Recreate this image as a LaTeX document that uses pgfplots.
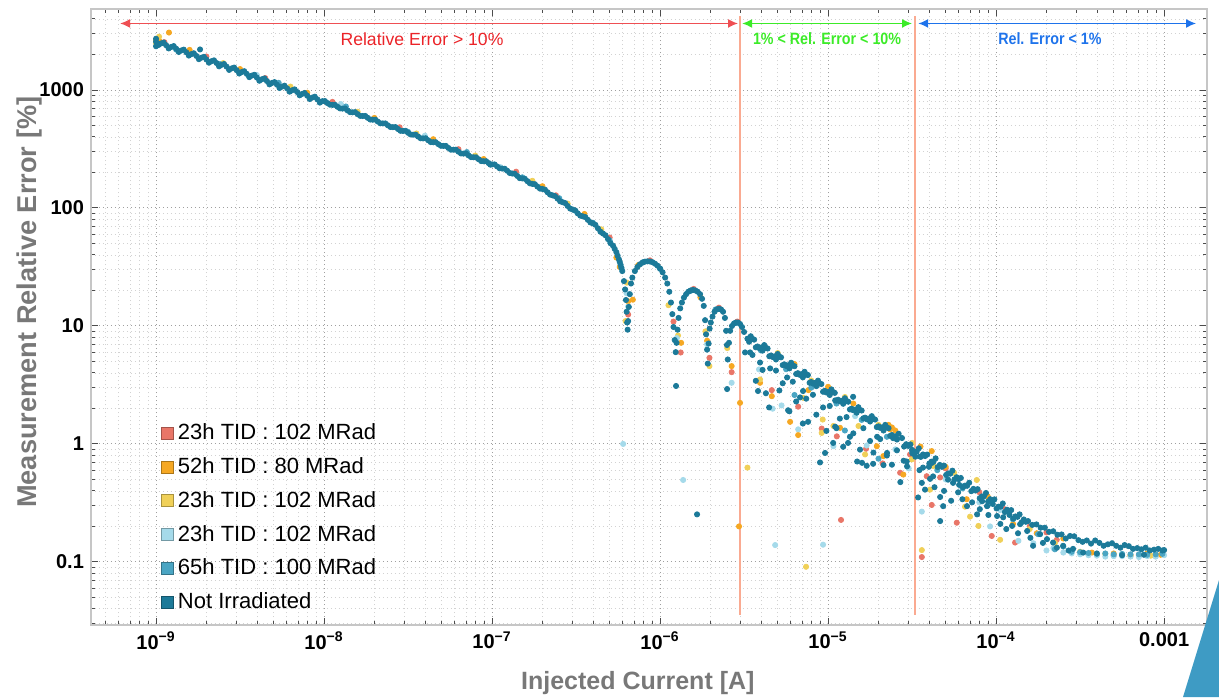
\documentclass[border=0pt]{standalone}
\usepackage{pgfplots}
\pgfplotsset{compat=1.18}
\usepackage{fontspec}
\setmainfont{Liberation Sans}
\newfontfamily\condfont[FakeStretch=0.87]{Liberation Sans}
\usetikzlibrary{arrows.meta}

\definecolor{cRed}{RGB}{233,118,104}
\definecolor{cOrange}{RGB}{246,168,35}
\definecolor{cYellow}{RGB}{240,208,88}
\definecolor{cLBlue}{RGB}{165,218,234}
\definecolor{cMBlue}{RGB}{74,165,195}
\definecolor{cDark}{RGB}{28,122,153}
\definecolor{cLine}{RGB}{250,170,145}
\definecolor{cRedT}{RGB}{235,35,40}
\definecolor{cGreenT}{RGB}{60,235,40}
\definecolor{cBlueT}{RGB}{30,115,235}
\definecolor{labelgray}{RGB}{120,120,120}
\definecolor{cTri}{RGB}{62,155,196}

\pgfplotsset{
  pts/.style={only marks, mark=*, mark size=1.3pt, color=#1,
    legend image code/.code={\draw[fill=#1, draw=#1!70!black, line width=0.5pt] (0pt,-3pt) rectangle (6pt,3pt);}},
}

\begin{document}
\begin{tikzpicture}
\begin{axis}[
  name=ax,
  scale only axis,
  width=558pt, height=308pt,
  xmode=log, ymode=log,
  xmin=4.10e-10, xmax=1.80e-3,
  ymin=0.0292, ymax=4860,
  xtick={1e-9,1e-8,1e-7,1e-6,1e-5,1e-4,1e-3},
  xticklabels={10\textsuperscript{−9},10\textsuperscript{−8},10\textsuperscript{−7},10\textsuperscript{−6},10\textsuperscript{−5},10\textsuperscript{−4},0.001},
  minor xtick={5e-10,6e-10,7e-10,8e-10,9e-10,
    2e-9,3e-9,4e-9,5e-9,6e-9,7e-9,8e-9,9e-9,
    2e-8,3e-8,4e-8,5e-8,6e-8,7e-8,8e-8,9e-8,
    2e-7,3e-7,4e-7,5e-7,6e-7,7e-7,8e-7,9e-7,
    2e-6,3e-6,4e-6,5e-6,6e-6,7e-6,8e-6,9e-6,
    2e-5,3e-5,4e-5,5e-5,6e-5,7e-5,8e-5,9e-5,
    2e-4,3e-4,4e-4,5e-4,6e-4,7e-4,8e-4,9e-4},
  ytick={0.1,1,10,100,1000},
  yticklabels={0.1,1,10,100,1000},
  minor ytick={0.03,0.04,0.05,0.06,0.07,0.08,0.09,
    0.2,0.3,0.4,0.5,0.6,0.7,0.8,0.9,
    2,3,4,5,6,7,8,9,20,30,40,50,60,70,80,90,
    200,300,400,500,600,700,800,900,2000,3000,4000},
  ticklabel style={font=\bfseries\fontsize{10}{12}\selectfont, text=black},
  grid=both,
  major grid style={gray!75, line width=0.5pt, dash pattern=on 0.7pt off 1.3pt},
  minor grid style={gray!35, line width=0.4pt, dash pattern=on 0.7pt off 1.3pt},
  tick align=inside,
  major tick length=3.5pt, minor tick length=2pt,
  tick style={gray!60!black, line width=0.5pt},
  axis line style={gray!45, line width=0.8pt},
  xlabel={Injected Current [A]},
  ylabel={Measurement Relative Error [\%]},
  xlabel style={at={(axis description cs:0.49,-0.094)}, anchor=center,
    font=\bfseries\fontsize{12.5}{14}\selectfont, text=labelgray},
  ylabel style={at={(axis description cs:-0.0547,0.524)}, anchor=center,
    font=\bfseries\fontsize{13.6}{15}\selectfont, text=labelgray},
  legend style={at={(axis description cs:0.057,0.34)}, anchor=north west,
    draw=none, fill=none, font=\fontsize{11}{13}\selectfont, row sep=3.4pt},
  legend cell align=left,
]

% region limits
\draw[cLine, line width=0.75pt] (axis cs:3.0e-6,0.0356) -- (axis cs:3.0e-6,4200);
\draw[cLine, line width=0.75pt] (axis cs:3.3e-5,0.0356) -- (axis cs:3.3e-5,4200);
\draw[cRedT!80, line width=0.75pt, {Latex[length=5pt,width=4.5pt]}-{Latex[length=5pt,width=4.5pt]}]
  (axis cs:6.11e-10,3665) -- (axis cs:2.91e-6,3665);
\draw[cGreenT, line width=0.75pt, {Latex[length=5pt,width=4.5pt]}-{Latex[length=5pt,width=4.5pt]}]
  (axis cs:3.08e-6,3665) -- (axis cs:3.16e-5,3665);
\draw[cBlueT, line width=0.75pt, {Latex[length=5pt,width=4.5pt]}-{Latex[length=5pt,width=4.5pt]}]
  (axis cs:3.44e-5,3665) -- (axis cs:1.55e-3,3665);
\node[text=cRedT, font=\fontsize{8.8}{10}\selectfont] at (axis cs:3.83e-8,2700) {Relative Error > 10\%};
\node[text=cGreenT, font=\condfont\bfseries\fontsize{8.2}{10}\selectfont] at (axis cs:9.86e-6,2730) {1\% < Rel. Error < 10\%};
\node[text=cBlueT, font=\condfont\bfseries\fontsize{8.2}{10}\selectfont] at (axis cs:2.09e-4,2730) {Rel. Error < 1\%};

% 23h TID : 102 MRad (red)
\addplot[pts=cRed] coordinates {
(1.122e-9,2541) (1.995e-9,1923) (4.467e-9,1262) (1.122e-8,793) (2.818e-8,483) (6.310e-8,315) (1.390e-7,203) (2.399e-7,128) (5.012e-7,56.2)
(6.457e-7,12.5) (8.710e-7,36.0) (1.202e-6,10.9) (1.327e-6,5.96) (1.585e-6,20.6) (1.968e-6,5.37) (2.239e-6,14.3) (2.667e-6,4.06) (2.884e-6,10.9)
(4.624e-6,2.86) (6.637e-6,2.07) (9.162e-6,1.35) (1.127e-5,1.16) (1.683e-5,0.91) (2.113e-5,0.684) (2.685e-5,0.57) (3.076e-5,0.815) (3.864e-5,0.533) (1.194e-5,0.227)
(3.614e-5,0.11) (4.140e-5,0.304) (4.645e-5,0.52) (5.834e-5,0.215) (9.419e-5,0.166) (1.297e-4,0.146) (2.296e-4,0.154) (2.818e-4,0.125) (3.548e-4,0.117) (5.012e-4,0.113) (7.079e-4,0.114) (8.913e-4,0.112)
(5.012e-5,0.62) (7.943e-5,0.39) (1.122e-4,0.28) (1.585e-4,0.2) (1.995e-4,0.178)
};
\addlegendentry{23h TID : 102 MRad}

% 52h TID : 80 MRad (orange)
\addplot[pts=cOrange] coordinates {
(1.194e-9,3070) (1.0e-9,2650) (1.047e-9,2600) (1.585e-9,2188) (3.162e-9,1505) (7.943e-9,948) (1.995e-8,580) (4.467e-8,383) (8.913e-8,260) (1.995e-7,153) (3.548e-7,89) (5.495e-7,38) (5.754e-7,31.6)
(6.457e-7,16.2) (6.887e-7,16.7) (7.413e-7,32.8) (1.334e-6,7.2) (1.738e-6,17.5) (1.905e-6,7.5) (2.667e-6,4.57) (2.992e-6,2.23) (2.951e-6,0.2)
(3.936e-6,3.3) (4.624e-6,2.54) (5.943e-6,1.54) (6.637e-6,1.19) (7.638e-6,2.86) (1.178e-5,1.37) (1.950e-5,0.957) (2.133e-5,0.789) (2.339e-5,1.33) (2.805e-5,0.55) (4.140e-5,0.87)
(6.310e-6,4.75) (1.0e-5,3.05) (1.413e-5,2.2) (2.291e-5,1.45) (2.399e-5,1.38) (2.512e-5,1.30)
(6.683e-5,0.34) (1.262e-4,0.21) (1.746e-4,0.175) (3.715e-4,0.12) (3.548e-5,0.95) (5.012e-5,0.64) (8.913e-5,0.36) (2.512e-4,0.158) (5.012e-4,0.118) (6.310e-4,0.114) (7.943e-4,0.118) (9.550e-4,0.115)
};
\addlegendentry{52h TID : 80 MRad}

% 23h TID : 102 MRad (yellow)
\addplot[pts=cYellow] coordinates {
(1.042e-9,2830) (1.0e-9,2500) (2.512e-9,1690) (6.310e-9,1069) (1.585e-8,654) (3.548e-8,428) (7.943e-8,278) (1.738e-7,170) (2.818e-7,109) (4.467e-7,66)
(6.339e-7,23.3) (6.237e-7,11) (1.279e-6,8.3) (1.122e-6,15) (1.968e-6,4.57) (1.862e-6,9.0) (2.512e-6,6.5) (3.311e-6,0.63)
(3.936e-6,3.52) (7.129e-6,2.46) (9.290e-6,1.61) (9.162e-6,1.24) (1.076e-5,1.42) (1.517e-5,1.42) (1.660e-5,0.815) (3.148e-5,0.74) (4.236e-5,0.65)
(5.012e-6,5.9) (7.943e-6,3.45) (1.259e-5,2.5) (1.995e-5,1.45) (7.396e-6,0.091)
(3.614e-5,0.126) (4.046e-5,0.41) (6.531e-5,0.294) (6.998e-5,0.242) (7.674e-5,0.495) (7.852e-5,0.202) (1.057e-4,0.154) (1.585e-4,0.19) (2.239e-4,0.145) (3.162e-4,0.122) (4.467e-4,0.117) (6.310e-4,0.112) (8.318e-4,0.113) (3.162e-5,1.02) (5.623e-5,0.57)
};
\addlegendentry{23h TID : 102 MRad}

% 23h TID : 102 MRad (light blue)
\addplot[pts=cLBlue] coordinates {
(1.259e-9,2330) (3.981e-9,1340) (1.259e-8,760) (3.981e-8,410) (1.122e-7,222) (3.162e-7,93) (6.026e-7,1.0)
(6.457e-7,14.6) (6.310e-7,19) (1.259e-6,7.9) (1.372e-6,0.495) (2.667e-6,3.3) (1.905e-6,7.0)
(3.882e-6,4.28) (4.677e-6,1.99) (5.284e-6,2.12) (6.637e-6,1.33) (1.076e-5,0.957) (1.449e-5,1.72) (1.698e-5,0.97) (2.512e-5,0.9) (3.020e-5,0.62)
(4.842e-6,0.139) (9.333e-6,0.14)
(3.614e-5,0.267) (9.204e-5,0.2) (1.057e-4,0.275) (1.358e-4,0.151) (1.667e-4,0.144) (2.193e-4,0.131) (2.818e-4,0.118) (3.548e-4,0.114) (4.467e-4,0.111) (5.623e-4,0.112) (7.079e-4,0.11) (8.913e-4,0.111) (1.0e-3,0.114) (5.012e-5,0.5) (6.310e-5,0.44) (7.943e-5,0.32)
(1.995e-4,0.125) (2.512e-4,0.12) (3.162e-4,0.116) (3.981e-4,0.113) (5.012e-4,0.112) (6.310e-4,0.111) (7.943e-4,0.112)
};
\addlegendentry{23h TID : 102 MRad}

% 65h TID : 100 MRad (mid blue)
\addplot[pts=cMBlue] coordinates {
(1.035e-9,2420) (1.318e-9,2200) (2.399e-9,1660) (5.370e-9,1150) (1.349e-8,725) (3.162e-8,442) (7.079e-8,298) (1.514e-7,182) (2.512e-7,121) (3.981e-7,75) (5.012e-7,53) (5.888e-7,31)
(7.943e-7,34.8) (1.0e-6,30.5) (1.514e-6,19.8) (2.138e-6,13.8) (2.818e-6,10.6)
(3.981e-6,6.2) (5.623e-6,4.3) (7.943e-6,3.0) (1.122e-5,2.2) (1.585e-5,1.6) (2.239e-5,1.15) (6.310e-6,2.6) (1.259e-5,1.3) (1.995e-5,0.75)
(3.162e-5,0.85) (4.467e-5,0.6) (6.310e-5,0.42) (8.913e-5,0.3) (1.259e-4,0.23) (1.778e-4,0.172) (2.512e-4,0.135) (3.162e-4,0.121) (3.981e-4,0.117) (5.012e-4,0.116) (6.310e-4,0.116) (7.943e-4,0.115) (9.772e-4,0.117)
(2.239e-4,0.128) (2.818e-4,0.122) (3.548e-4,0.119) (4.467e-4,0.118) (5.623e-4,0.117) (7.079e-4,0.116) (8.913e-4,0.116)
};
\addlegendentry{65h TID : 100 MRad}

% Not Irradiated (dark teal)
\addplot[pts=cDark] coordinates {
(1.000e-9,2570) (1.0e-9,2350) (1.0e-9,2720) (1.02e-9,2450) (1.828e-9,2207)
(1.072e-9,2483) (1.148e-9,2399) (1.230e-9,2317) (1.318e-9,2238) (1.413e-9,2162) (1.514e-9,2089) (1.622e-9,2014) (1.738e-9,1945) (1.862e-9,1879)
(1.995e-9,1815) (2.138e-9,1754) (2.291e-9,1694) (2.455e-9,1633) (2.630e-9,1578) (2.818e-9,1524) (3.020e-9,1472) (3.236e-9,1419) (3.467e-9,1371)
(3.715e-9,1324) (3.981e-9,1276) (4.266e-9,1233) (4.571e-9,1191) (4.898e-9,1148) (5.248e-9,1109) (5.623e-9,1069) (6.026e-9,1033) (6.457e-9,995)
(6.918e-9,962) (7.413e-9,927) (7.943e-9,895) (8.511e-9,863) (9.120e-9,834) (9.772e-9,804) (1.047e-8,776) (1.122e-8,748) (1.202e-8,721)
(1.288e-8,696) (1.380e-8,671) (1.479e-8,647) (1.585e-8,625) (1.698e-8,602) (1.820e-8,581) (1.950e-8,560) (2.089e-8,540) (2.239e-8,521)
(2.399e-8,502) (2.570e-8,484) (2.754e-8,467) (2.951e-8,450) (3.162e-8,434) (3.388e-8,418) (3.631e-8,403) (3.890e-8,389) (4.169e-8,375)
(4.467e-8,361) (4.786e-8,348) (5.129e-8,336) (5.495e-8,323) (5.888e-8,312) (6.310e-8,300) (6.761e-8,289) (7.244e-8,279) (7.762e-8,269)
(8.318e-8,259) (8.913e-8,249) (9.550e-8,240) (1.000e-7,234)
(1.035e-9,2412) (1.109e-9,2526) (1.189e-9,2252) (1.274e-9,2357) (1.365e-9,2101) (1.462e-9,2199) (1.567e-9,1959) (1.679e-9,2048) (1.799e-9,1826)
(1.928e-9,1912) (2.065e-9,1704) (2.213e-9,1784) (2.371e-9,1588) (2.541e-9,1661) (2.723e-9,1481) (2.917e-9,1550) (3.126e-9,1380) (3.350e-9,1444)
(3.589e-9,1286) (3.846e-9,1346) (4.121e-9,1198) (4.416e-9,1254) (4.732e-9,1116) (5.070e-9,1167) (5.433e-9,1040) (5.821e-9,1088) (6.237e-9,968)
(6.683e-9,1012) (7.161e-9,902) (7.674e-9,943) (8.222e-9,839) (8.810e-9,878) (9.441e-9,782)
(1.012e-8,806) (1.084e-8,751) (1.161e-8,749) (1.245e-8,698) (1.334e-8,697) (1.429e-8,649) (1.531e-8,649) (1.641e-8,604) (1.758e-8,603)
(1.884e-8,562) (2.018e-8,561) (2.163e-8,522) (2.317e-8,521) (2.483e-8,486) (2.661e-8,485) (2.851e-8,451) (3.055e-8,451) (3.273e-8,420)
(3.508e-8,418) (3.758e-8,390) (4.027e-8,390) (4.315e-8,362) (4.624e-8,361) (4.955e-8,337) (5.309e-8,336) (5.689e-8,312) (6.095e-8,312)
(6.531e-8,290) (6.998e-8,290) (7.499e-8,270) (8.035e-8,269) (8.610e-8,250) (9.226e-8,249) (9.772e-8,233)
(1.035e-7,234) (1.109e-7,217) (1.189e-7,215) (1.274e-7,198) (1.365e-7,195) (1.462e-7,179) (1.567e-7,177) (1.679e-7,162) (1.799e-7,159)
(1.928e-7,146) (2.065e-7,143) (2.213e-7,130) (2.371e-7,126) (2.541e-7,114) (2.723e-7,110) (2.917e-7,98.9) (3.126e-7,95.3) (3.350e-7,86.2)
(3.589e-7,83.8) (3.846e-7,75.5) (4.121e-7,72.0) (4.416e-7,63.0) (4.732e-7,58.7) (5.070e-7,50.3) (5.370e-7,45.0) (5.591e-7,39.4) (5.754e-7,34.9)
(5.888e-7,31.1)
(1.072e-7,225) (1.148e-7,216) (1.230e-7,207) (1.318e-7,196) (1.413e-7,187) (1.514e-7,178) (1.622e-7,169) (1.738e-7,160) (1.862e-7,152)
(1.995e-7,145) (2.138e-7,136) (2.291e-7,128) (2.455e-7,120) (2.630e-7,112) (2.818e-7,104) (3.020e-7,97) (3.236e-7,90) (3.467e-7,85)
(3.715e-7,79.4) (3.981e-7,74.1) (4.266e-7,67.3) (4.571e-7,60.8) (4.898e-7,54.5) (5.248e-7,47.9) (5.495e-7,42.2) (5.689e-7,36.7) (5.821e-7,33.1)
(5.957e-7,29.2) (6.095e-7,24) (6.194e-7,20.4) (6.266e-7,16.6) (6.324e-7,13.2) (6.368e-7,10.7) (6.412e-7,9.3) (6.457e-7,11) (6.516e-7,14.5)
(6.607e-7,18.6) (6.714e-7,22.9)
(6.839e-7,25.7) (7.079e-7,29.2) (7.328e-7,31.6) (7.586e-7,33.3) (7.852e-7,34.4) (8.128e-7,35.1) (8.414e-7,35.3) (8.710e-7,35.2) (9.016e-7,34.7)
(9.333e-7,33.7) (9.661e-7,32.4) (1.000e-6,30.7) (1.035e-6,28.5) (1.072e-6,25.7) (1.104e-6,22.9) (1.135e-6,19.5) (1.161e-6,15.8) (1.183e-6,12.6)
(1.202e-6,9.8) (1.222e-6,7.6) (1.239e-6,6.0) (1.253e-6,7.2) (1.271e-6,9.3) (1.288e-6,11.7) (1.245e-6,3.1)
(1.318e-6,14.1) (1.349e-6,15.8) (1.387e-6,17.4) (1.429e-6,18.6) (1.472e-6,19.5) (1.521e-6,20.0) (1.570e-6,20.2) (1.622e-6,20.0) (1.675e-6,19.5)
(1.730e-6,18.6) (1.778e-6,17.0) (1.820e-6,14.8)
(1.854e-6,11.2) (1.879e-6,8.5) (1.905e-6,6.3) (1.923e-6,4.8) (1.945e-6,7.1) (1.972e-6,9.5)
(2.004e-6,10.7) (2.051e-6,12.0) (2.109e-6,13.2) (2.173e-6,13.8) (2.239e-6,14.0) (2.307e-6,13.8) (2.371e-6,13.2) (2.432e-6,11.7)
(2.472e-6,9.1) (2.500e-6,6.9) (2.529e-6,5.2) (2.570e-6,7.2)
(2.612e-6,9.1) (2.679e-6,10.0) (2.754e-6,10.5) (2.831e-6,10.7) (2.911e-6,10.7) (2.992e-6,10.4) (3.076e-6,9.8) (3.162e-6,8.9)
(1.660e-6,0.253) (2.506e-6,2.92)
(3.311e-6,7.80) (3.467e-6,8.18) (3.631e-6,7.66) (3.802e-6,6.70) (3.981e-6,6.56) (4.169e-6,6.89) (4.365e-6,6.44) (4.571e-6,5.62) (4.786e-6,5.52)
(5.012e-6,5.79) (5.248e-6,5.42) (5.495e-6,4.73) (5.754e-6,4.63) (6.026e-6,4.88) (6.310e-6,4.56) (6.607e-6,3.98) (6.918e-6,3.90) (7.244e-6,4.09)
(7.586e-6,3.84) (7.943e-6,3.35) (8.318e-6,3.28) (8.710e-6,3.44) (9.120e-6,3.22) (9.550e-6,2.82) (1.000e-5,2.76) (1.047e-5,2.90) (1.096e-5,2.71)
(1.148e-5,2.37) (1.202e-5,2.32) (1.259e-5,2.44) (1.318e-5,2.28) (1.380e-5,1.99) (1.445e-5,1.95) (1.514e-5,2.05) (1.585e-5,1.92) (1.660e-5,1.67)
(1.738e-5,1.64) (1.820e-5,1.72) (1.905e-5,1.61) (1.995e-5,1.41) (2.089e-5,1.38) (2.188e-5,1.45) (2.291e-5,1.36) (2.399e-5,1.19) (2.512e-5,1.16)
(2.630e-5,1.22)
(3.388e-6,7.35) (3.548e-6,7.76) (3.715e-6,6.59) (3.890e-6,6.50) (4.074e-6,6.18) (4.266e-6,6.53) (4.467e-6,5.54) (4.677e-6,5.46) (4.898e-6,5.20)
(5.129e-6,5.49) (5.370e-6,4.66) (5.623e-6,4.59) (5.888e-6,4.37) (6.166e-6,4.62) (6.457e-6,3.92) (6.761e-6,3.86) (7.079e-6,3.67) (7.413e-6,3.88)
(7.762e-6,3.30) (8.128e-6,3.25) (8.511e-6,3.09) (8.913e-6,3.26) (9.333e-6,2.77) (9.772e-6,2.73) (1.023e-5,2.60) (1.072e-5,2.75) (1.122e-5,2.33)
(1.175e-5,2.30) (1.230e-5,2.19) (1.288e-5,2.31) (1.349e-5,1.96) (1.413e-5,1.93) (1.479e-5,1.84) (1.549e-5,1.94) (1.622e-5,1.65) (1.698e-5,1.62)
(1.778e-5,1.55) (1.862e-5,1.63) (1.950e-5,1.39) (2.042e-5,1.37) (2.138e-5,1.30) (2.239e-5,1.38) (2.344e-5,1.17) (2.455e-5,1.15) (2.570e-5,1.09)
(3.206e-6,5.97) (3.436e-6,5.97) (3.828e-6,2.81) (3.936e-6,4.9) (4.519e-6,4.37) (4.457e-6,2.04) (5.702e-6,3.66) (5.781e-6,1.93) (6.808e-6,2.48)
(7.603e-6,1.54) (7.096e-6,2.81) (8.954e-6,0.697) (9.594e-6,0.839) (1.072e-5,1.02) (1.102e-5,1.40) (1.102e-5,2.34) (1.315e-5,1.02) (1.409e-5,2.51)
(1.489e-5,0.71) (1.592e-5,0.692) (1.854e-5,0.679) (1.959e-5,1.15) (2.244e-5,0.839) (2.438e-5,1.12) (2.951e-5,0.646) (3.162e-5,0.891) (3.532e-5,0.782)
(3.673e-5,0.631) (4.159e-5,0.692) (4.217e-5,0.531)
(3.548e-6,5.68) (4.074e-6,4.24) (4.898e-6,4.19) (5.370e-6,3.27) (6.166e-6,3.37) (7.413e-6,2.42) (8.128e-6,2.61) (9.333e-6,2.04) (1.023e-5,2.10)
(1.175e-5,1.64) (1.288e-5,1.69) (1.413e-5,1.23) (1.622e-5,1.36) (1.778e-5,1.06) (2.042e-5,1.10) (2.239e-5,0.798) (2.570e-5,0.883) (2.818e-5,0.721)
(3.715e-6,3.43) (4.266e-6,2.69) (5.129e-6,2.84) (5.888e-6,1.89) (6.457e-6,2.29) (7.079e-6,1.49) (8.511e-6,1.77) (9.772e-6,1.29) (1.122e-5,1.36)
(1.230e-5,0.946) (1.349e-5,1.15) (1.549e-5,0.895) (1.698e-5,0.653) (1.862e-5,0.845) (2.138e-5,0.662) (2.399e-5,0.667) (2.692e-5,0.475)
(2.754e-5,1.122) (2.917e-5,0.995) (3.090e-5,0.991) (3.273e-5,0.859) (3.467e-5,0.918) (3.673e-5,0.815) (3.890e-5,0.813) (4.121e-5,0.708) (4.365e-5,0.755)
(4.624e-5,0.664) (4.898e-5,0.655) (5.188e-5,0.562) (5.495e-5,0.594) (5.821e-5,0.522) (6.166e-5,0.515) (6.531e-5,0.443) (6.918e-5,0.469) (7.328e-5,0.416)
(7.762e-5,0.414) (8.222e-5,0.359) (8.710e-5,0.384) (9.226e-5,0.340) (9.772e-5,0.339) (1.035e-4,0.294) (1.096e-4,0.313) (1.161e-4,0.277) (1.230e-4,0.275)
(1.303e-4,0.243) (1.380e-4,0.253) (1.462e-4,0.229) (1.549e-4,0.222) (1.641e-4,0.206) (1.738e-4,0.208) (1.841e-4,0.195) (1.950e-4,0.195) (2.065e-4,0.180)
(2.188e-4,0.182) (2.317e-4,0.170) (2.455e-4,0.171) (2.600e-4,0.158) (2.754e-4,0.166) (2.917e-4,0.165) (3.090e-4,0.153) (3.273e-4,0.148) (3.467e-4,0.152)
(3.673e-4,0.143) (3.890e-4,0.152) (4.121e-4,0.145) (4.365e-4,0.137) (4.624e-4,0.141) (4.898e-4,0.144) (5.188e-4,0.137) (5.495e-4,0.132) (5.821e-4,0.139)
(6.166e-4,0.136) (6.531e-4,0.129) (6.918e-4,0.131) (7.328e-4,0.128) (7.762e-4,0.132) (8.222e-4,0.125) (8.710e-4,0.127) (9.226e-4,0.129) (9.772e-4,0.125)
(1.000e-3,0.126)
(2.835e-5,0.951) (3.002e-5,0.963) (3.180e-5,0.830) (3.369e-5,0.861) (3.568e-5,0.778) (3.780e-5,0.790) (4.004e-5,0.683) (4.241e-5,0.709) (4.492e-5,0.637)
(4.759e-5,0.640) (5.041e-5,0.546) (5.340e-5,0.560) (5.655e-5,0.501) (5.991e-5,0.503) (6.346e-5,0.430) (6.722e-5,0.442) (7.120e-5,0.398) (7.542e-5,0.403)
(7.989e-5,0.347) (8.462e-5,0.360) (8.964e-5,0.325) (9.495e-5,0.329) (1.006e-4,0.284) (1.065e-4,0.294) (1.128e-4,0.265) (1.195e-4,0.268) (1.266e-4,0.233)
(1.341e-4,0.241) (1.420e-4,0.217) (1.504e-4,0.219)
(2.938e-5,0.71) (3.436e-5,0.352) (3.614e-5,0.468) (3.776e-5,0.41) (4.046e-5,0.506) (4.645e-5,0.355) (4.645e-5,0.222) (4.842e-5,0.297) (5.176e-5,0.498)
(5.546e-5,0.468) (5.943e-5,0.389) (6.714e-5,0.297) (7.709e-5,0.253) (8.260e-5,0.327) (8.831e-5,0.297) (1.014e-4,0.245) (1.102e-4,0.239) (1.245e-4,0.202)
(1.390e-4,0.209) (1.531e-4,0.183) (1.660e-4,0.137) (1.828e-4,0.172) (2.009e-4,0.156) (2.183e-4,0.146) (2.506e-4,0.137) (2.871e-4,0.129)
(3.981e-4,0.118) (5.623e-4,0.114) (7.586e-4,0.115)
(3.311e-5,0.78) (3.981e-5,0.64) (6.026e-5,0.45) (9.550e-5,0.31) (1.202e-4,0.25)
(3.5e-5,0.6) (4.3e-5,0.43) (4.9e-5,0.4) (5.4e-5,0.33) (6.3e-5,0.34) (7.2e-5,0.32) (8.0e-5,0.28) (9.0e-5,0.25) (1.06e-4,0.21)
(1.15e-4,0.19) (1.35e-4,0.175) (1.6e-4,0.16) (1.9e-4,0.145) (2.3e-4,0.132) (2.7e-4,0.125) (3.3e-4,0.12)
};
\addlegendentry{Not Irradiated}

\end{axis}
\fill[cTri] ([shift={(6pt,22.5pt)}]ax.south east) -- ([shift={(-12pt,-36pt)}]ax.south east) -- ([shift={(6pt,-36pt)}]ax.south east) -- cycle;
\pgfresetboundingbox
\path ([shift={(-45.5pt,-36pt)}]ax.south west) rectangle ([shift={(6pt,4.5pt)}]ax.north east);
\end{tikzpicture}
\end{document}
